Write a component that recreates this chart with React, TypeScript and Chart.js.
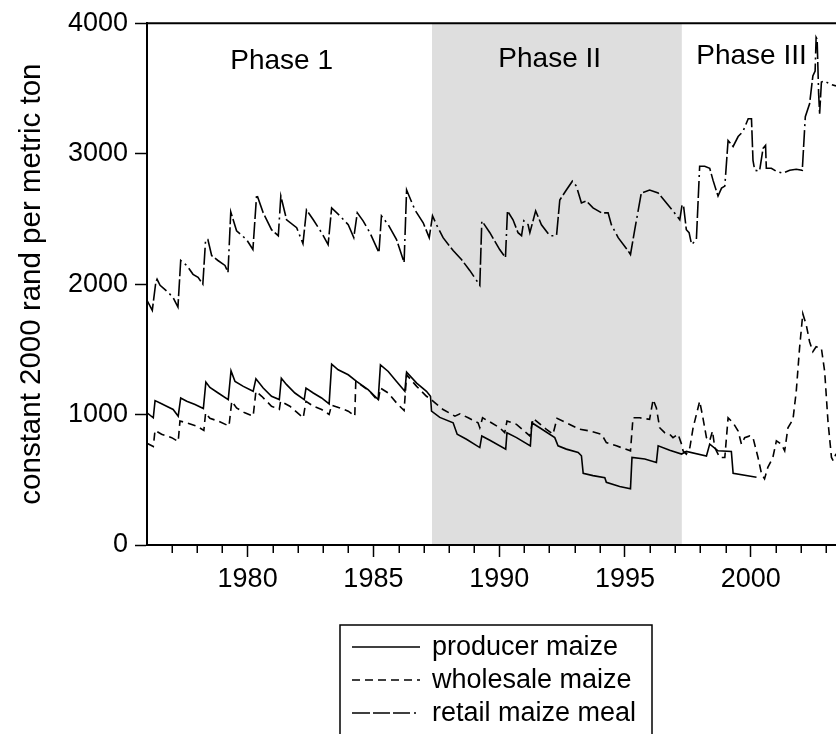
import React, { useEffect, useRef } from 'react';
import { Chart, registerables } from 'chart.js';

Chart.register(...registerables);

// ---------- data ----------
const producerYears = [
  1976.0, 1976.25, 1976.32, 1976.52, 1976.78, 1977.04, 1977.24, 1977.34, 1977.58, 1977.91,
  1978.24, 1978.34, 1978.5, 1978.83, 1979.23, 1979.34, 1979.5, 1979.83, 1980.22, 1980.33,
  1980.62, 1980.95, 1981.26, 1981.34, 1981.55, 1981.88, 1982.25, 1982.32, 1982.61, 1982.94,
  1983.24, 1983.34, 1983.6, 1984.0, 1984.33, 1984.79, 1985.19, 1985.28, 1985.59, 1985.92,
  1986.25, 1986.32, 1986.72, 1987.11, 1987.27, 1987.31, 1987.64, 1988.17, 1988.33, 1988.7,
  1989.23, 1989.31, 1989.63, 1990.26, 1990.31, 1990.69, 1991.24, 1991.3, 1991.61, 1992.21,
  1992.34, 1992.67, 1993.14, 1993.27, 1993.34, 1993.73, 1994.2, 1994.26, 1994.79, 1995.22,
  1995.28, 1995.79, 1996.25, 1996.32, 1996.78, 1997.25, 1997.44, 1998.24, 1998.37, 1998.7,
  1999.23, 1999.3, 2000.23,
];
const producerValues = [
  1013, 975, 1107, 1089, 1064, 1039, 988, 1127, 1102, 1077,
  1046, 1249, 1208, 1165, 1115, 1335, 1254, 1216, 1178, 1274,
  1203, 1140, 1115, 1279, 1229, 1165, 1115, 1203, 1165, 1127,
  1082, 1386, 1343, 1305, 1254, 1191, 1115, 1381, 1330, 1254,
  1178, 1325, 1241, 1178, 1140, 1026, 978, 937, 849, 811,
  747, 836, 803, 735, 861, 823, 760, 937, 899, 823,
  760, 735, 709, 684, 550, 532, 515, 481, 448, 431,
  671, 659, 633, 760, 727, 697, 717, 682, 773, 722,
  717, 550, 519,
];

const wholesaleYears = [
  1976.0, 1976.25, 1976.32, 1976.58, 1976.98, 1977.24, 1977.31, 1977.58, 1977.97, 1978.26,
  1978.33, 1978.5, 1978.83, 1979.26, 1979.37, 1979.56, 1979.89, 1980.22, 1980.33, 1980.56,
  1980.95, 1981.26, 1981.31, 1981.68, 1982.21, 1982.32, 1982.61, 1982.94, 1983.24, 1983.34,
  1983.67, 1984.0, 1984.26, 1984.3, 1984.86, 1985.19, 1985.28, 1985.59, 1985.92, 1986.22,
  1986.32, 1986.72, 1987.11, 1987.31, 1987.37, 1987.77, 1988.24, 1988.44, 1988.77, 1989.16,
  1989.23, 1989.34, 1989.69, 1990.02, 1990.22, 1990.31, 1990.69, 1991.22, 1991.35, 1991.88,
  1992.14, 1992.3, 1992.67, 1993.2, 1993.6, 1994.07, 1994.26, 1994.66, 1995.22, 1995.32,
  1995.59, 1995.98, 1996.12, 1996.25, 1996.38, 1996.58, 1996.78, 1996.91, 1997.11, 1997.25,
  1997.31, 1997.44, 1997.58, 1997.71, 1997.97, 1998.1, 1998.24, 1998.37, 1998.48, 1998.57,
  1998.77, 1998.97, 1999.1, 1999.3, 1999.5, 1999.63, 1999.76, 1999.96, 2000.09, 2000.29,
  2000.43, 2000.55, 2000.68, 2000.88, 2001.02, 2001.22, 2001.35, 2001.48, 2001.68, 2001.81,
  2001.94, 2002.07, 2002.21, 2002.34, 2002.47, 2002.6, 2002.81, 2002.94, 2003.07, 2003.21,
  2003.28, 2003.39,
];
const wholesaleValues = [
  780, 755, 879, 849, 823, 793, 950, 937, 912, 879,
  1013, 971, 950, 912, 1102, 1051, 1013, 988, 1178, 1140,
  1064, 1039, 1102, 1064, 975, 1102, 1064, 1039, 1001, 1072,
  1051, 1026, 988, 1254, 1178, 1102, 1203, 1165, 1089, 1031,
  1305, 1216, 1140, 1115, 1102, 1039, 988, 1006, 975, 937,
  899, 975, 937, 899, 861, 950, 925, 836, 971, 887,
  849, 971, 937, 887, 874, 849, 785, 760, 722, 975,
  975, 963, 1115, 1051, 899, 861, 849, 823, 849, 773,
  722, 697, 747, 899, 1102, 975, 823, 798, 874, 747,
  671, 671, 975, 937, 874, 773, 823, 836, 823, 671,
  545, 507, 595, 671, 798, 773, 722, 899, 963, 1178,
  1507, 1773, 1685, 1558, 1482, 1520, 1507, 1330, 950, 671,
  646, 700,
];

const retailYears = [
  1976.0, 1976.21, 1976.35, 1976.4, 1976.52, 1976.83, 1977.03, 1977.23, 1977.34, 1977.58,
  1977.83, 1978.03, 1978.22, 1978.33, 1978.42, 1978.57, 1978.82, 1979.1, 1979.22, 1979.33,
  1979.56, 1979.96, 1980.21, 1980.36, 1980.62, 1980.95, 1981.22, 1981.32, 1981.55, 1981.95,
  1982.2, 1982.34, 1982.61, 1982.94, 1983.2, 1983.34, 1983.67, 1984.0, 1984.22, 1984.36,
  1984.59, 1984.86, 1985.22, 1985.32, 1985.59, 1985.92, 1986.22, 1986.32, 1986.65, 1986.98,
  1987.22, 1987.35, 1987.51, 1987.77, 1988.17, 1988.5, 1988.83, 1989.23, 1989.31, 1989.63,
  1990.02, 1990.25, 1990.33, 1990.55, 1990.75, 1990.89, 1990.98, 1991.15, 1991.22, 1991.45,
  1991.68, 1992.01, 1992.28, 1992.41, 1992.67, 1992.91, 1993.07, 1993.27, 1993.47, 1993.73,
  1994.07, 1994.33, 1994.46, 1994.73, 1995.12, 1995.22, 1995.39, 1995.65, 1995.98, 1996.32,
  1996.65, 1996.91, 1997.18, 1997.27, 1997.33, 1997.44, 1997.55, 1997.65, 1997.84, 1997.97,
  1998.17, 1998.37, 1998.5, 1998.7, 1998.84, 1998.97, 1999.1, 1999.3, 1999.5, 1999.69,
  1999.9, 2000.03, 2000.09, 2000.16, 2000.35, 2000.49, 2000.59, 2000.62, 2000.82, 2001.02,
  2001.28, 2001.55, 2001.81, 2002.05, 2002.17, 2002.34, 2002.47, 2002.56, 2002.6, 2002.64,
  2002.7, 2002.74, 2002.81, 2002.94, 2003.14, 2003.39,
];
const retailValues = [
  1875, 1799, 2014, 2037, 1991, 1938, 1900, 1824, 2181, 2143,
  2075, 2052, 2000, 2341, 2341, 2219, 2181, 2143, 2090, 2554,
  2409, 2341, 2265, 2690, 2546, 2417, 2371, 2675, 2493, 2432,
  2310, 2569, 2493, 2394, 2303, 2584, 2523, 2455, 2356, 2546,
  2485, 2394, 2242, 2523, 2455, 2341, 2166, 2721, 2569, 2470,
  2356, 2523, 2455, 2356, 2257, 2189, 2105, 1991, 2485, 2394,
  2265, 2204, 2561, 2493, 2394, 2371, 2485, 2455, 2394, 2561,
  2455, 2371, 2371, 2645, 2721, 2789, 2751, 2622, 2637, 2584,
  2546, 2546, 2455, 2356, 2257, 2227, 2417, 2698, 2721, 2698,
  2622, 2561, 2493, 2607, 2600, 2417, 2394, 2303, 2341, 2903,
  2903, 2888, 2797, 2675, 2736, 2751, 3101, 3055, 3131, 3169,
  3268, 3268, 2949, 2873, 2865, 3040, 3063, 2888, 2888, 2865,
  2850, 2873, 2880, 2873, 3283, 3382, 3595, 3633, 3891, 3876,
  3458, 3306, 3549, 3557, 3534, 3519,
];

const seriesNames = ['producer maize', 'wholesale maize', 'retail maize meal'];
const seriesDashes = [[], [8, 5], [18, 3, 17, 3, 17, 4, 2, 4]];

const yTickValues = [0, 1000, 2000, 3000, 4000];
const xMajorTicks = [1980, 1985, 1990, 1995, 2000];
const xMinorTicks = [
  1977, 1978, 1979, 1981, 1982, 1983, 1984, 1986, 1987, 1988, 1989,
  1991, 1992, 1993, 1994, 1996, 1997, 1998, 1999, 2001, 2002, 2003,
];
const xMin = 1976.0;
const xMax = 2003.39;

const phaseLabels = ['Phase 1', 'Phase II', 'Phase III'];
const phaseLabelX = [1981.35, 1992.01, 2000.03];
const phaseLabelY = [3648, 3661, 3691];
const shadeStart = 1987.33;
const shadeEnd = 1997.26;

const yTitle = 'constant 2000 rand per metric ton';

const FONT = '"Liberation Sans", Arial, Helvetica, sans-serif';

function toXY(xs: number[], ys: number[]) {
  return xs.map((x, i) => ({ x, y: ys[i] }));
}

const decorPlugin = {
  id: 'decor',
  beforeDraw(chart: any) {
    const { ctx, chartArea, scales } = chart;
    const x = scales.x;
    const x0 = x.getPixelForValue(shadeStart);
    const x1 = x.getPixelForValue(shadeEnd);
    ctx.save();
    ctx.fillStyle = '#dedede';
    ctx.fillRect(x0, chartArea.top, x1 - x0, chartArea.bottom - chartArea.top);
    ctx.restore();
  },
  afterDraw(chart: any) {
    const { ctx, chartArea, scales } = chart;
    const x = scales.x;
    const y = scales.y;
    ctx.save();
    // top frame line
    ctx.strokeStyle = '#000';
    ctx.lineWidth = 2;
    ctx.beginPath();
    ctx.moveTo(chartArea.left - 1, chartArea.top);
    ctx.lineTo(chartArea.right + 2, chartArea.top);
    ctx.stroke();
    // minor ticks
    ctx.lineWidth = 1.5;
    ctx.beginPath();
    xMinorTicks.forEach((v) => {
      const px = Math.round(x.getPixelForValue(v)) + 0.25;
      ctx.moveTo(px, chartArea.bottom);
      ctx.lineTo(px, chartArea.bottom + 8);
    });
    ctx.stroke();
    // phase labels
    ctx.fillStyle = '#000';
    ctx.font = `28px ${FONT}`;
    ctx.textAlign = 'center';
    ctx.textBaseline = 'alphabetic';
    phaseLabels.forEach((t, i) => {
      ctx.fillText(t, x.getPixelForValue(phaseLabelX[i]), y.getPixelForValue(phaseLabelY[i]));
    });
    // legend
    const lx = 340, ly = 625, lw = 312, lh = 130;
    ctx.lineWidth = 1.5;
    ctx.setLineDash([]);
    ctx.strokeRect(lx, ly, lw, lh);
    ctx.font = `27px ${FONT}`;
    ctx.textAlign = 'left';
    ctx.textBaseline = 'middle';
    chart.data.datasets.forEach((ds: any, i: number) => {
      const rowY = 647 + i * 33;
      ctx.save();
      ctx.strokeStyle = '#000';
      ctx.lineWidth = 1.6;
      ctx.setLineDash(ds.borderDash || []);
      ctx.beginPath();
      ctx.moveTo(352, rowY);
      ctx.lineTo(420, rowY);
      ctx.stroke();
      ctx.restore();
      ctx.fillText(ds.label, 432, rowY + 1);
    });
    ctx.restore();
  },
};

export default function App() {
  const canvasRef = useRef<HTMLCanvasElement | null>(null);

  useEffect(() => {
    const canvas = canvasRef.current;
    if (!canvas) return;
    const datasets = [
      { label: seriesNames[0], data: toXY(producerYears, producerValues), borderDash: seriesDashes[0] },
      { label: seriesNames[1], data: toXY(wholesaleYears, wholesaleValues), borderDash: seriesDashes[1] },
      { label: seriesNames[2], data: toXY(retailYears, retailValues), borderDash: seriesDashes[2] },
    ].map((d) => ({
      ...d,
      borderColor: '#000',
      backgroundColor: '#000',
      borderWidth: 1.6,
      pointRadius: 0,
      tension: 0,
      fill: false,
    }));

    const chart = new Chart(canvas, {
      type: 'line',
      data: { datasets },
      plugins: [decorPlugin],
      options: {
        animation: false,
        responsive: false,
        parsing: true,
        layout: { padding: { top: 20, right: 0, bottom: 129, left: 0 } },
        plugins: { legend: { display: false }, tooltip: { enabled: false } },
        scales: {
          x: {
            type: 'linear',
            position: 'bottom',
            min: xMin,
            max: xMax,
            afterBuildTicks: (s: any) => {
              s.ticks = xMajorTicks.map((v) => ({ value: v }));
            },
            afterFit: (s: any) => {
              s.height = 60;
            },
            grid: {
              drawOnChartArea: false,
              drawTicks: true,
              tickLength: 12,
              tickColor: '#000',
              tickWidth: 1.5,
            },
            border: { display: true, color: '#000', width: 2 },
            ticks: {
              autoSkip: false,
              maxRotation: 0,
              minRotation: 0,
              padding: 6,
              color: '#000',
              font: { family: FONT, size: 27 },
              callback: (v: any) => String(v),
            },
          },
          y: {
            type: 'linear',
            min: 0,
            max: 4000,
            afterBuildTicks: (s: any) => {
              s.ticks = yTickValues.map((v) => ({ value: v }));
            },
            afterFit: (s: any) => {
              s.width = 147;
            },
            grid: {
              drawOnChartArea: false,
              drawTicks: true,
              tickLength: 12,
              tickColor: '#000',
              tickWidth: 1.5,
            },
            border: { display: true, color: '#000', width: 2 },
            ticks: {
              padding: 7,
              color: '#000',
              font: { family: FONT, size: 27 },
              callback: (v: any) => String(v),
            },
            title: {
              display: true,
              text: yTitle,
              color: '#000',
              font: { family: FONT, size: 29.5 },
              padding: { top: 14, bottom: 0 },
            },
          },
        },
      },
    } as any);
    return () => chart.destroy();
  }, []);

  return (
    <div style={{ position: 'absolute', left: 0, top: 0, width: 836, height: 734, background: '#fff', overflow: 'hidden' }}>
      <canvas ref={canvasRef} width={836} height={734} style={{ display: 'block' }} />
    </div>
  );
}
